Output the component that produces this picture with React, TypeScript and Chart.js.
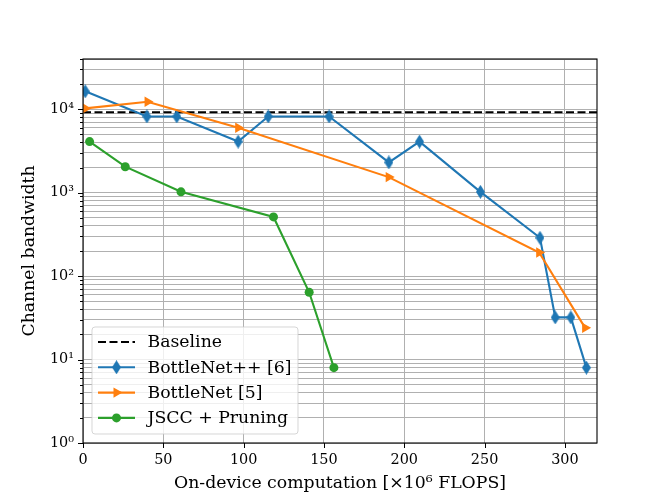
import React, { useEffect, useRef } from 'react';
import { Chart, registerables } from 'chart.js';

Chart.register(...registerables);

// ---------- data ----------
const X_MIN = 0;
const X_MAX = 320;
const Y_MIN = 1;
const Y_MAX = 40000;

const xTickValues = [0, 50, 100, 150, 200, 250, 300];
const yMajorTicks = [1, 10, 100, 1000, 10000];
const yMinorMultipliers = [2, 3, 4, 5, 6, 7, 8, 9];

const baselineValue = 9216;

const bottleNetPPX = [1.4, 39.8, 58.4, 96.6, 115.3, 153.2, 190.4, 209.5, 247.4, 284.5, 294.0, 303.7, 313.4];
const bottleNetPPY = [16384, 8192, 8192, 4096, 8192, 8192, 2304, 4096, 1024, 288, 32, 32, 8];

const bottleNetX = [1.4, 40.2, 96.6, 190.3, 284.0, 312.6];
const bottleNetY = [10240, 12288, 6000, 1536, 192, 24];

const jsccX = [4.1, 26.3, 61.0, 118.6, 140.8, 156.2];
const jsccY = [4096, 2048, 1024, 512, 64, 8];

const labels = ['Baseline', 'BottleNet++ [6]', 'BottleNet [5]', 'JSCC + Pruning'];

// ---------- styling ----------
const FONT = 'DejaVu Serif';
const TICK_SIZE = 14.4;
const LABEL_SIZE = 17.3;
const BLUE = '#1f77b4';
const ORANGE = '#ff7f0e';
const GREEN = '#2ca02c';
const GRID = '#b0b0b0';
const LW = 2.1;

const SUP: Record<string, string> = { '0': '⁰', '1': '¹', '2': '²', '3': '³', '4': '⁴', '5': '⁵', '6': '⁶', '7': '⁷', '8': '⁸', '9': '⁹' };
const sup = (n: number) => String(n).split('').map((c) => SUP[c] || c).join('');

const yTickValues: number[] = [];
yMajorTicks.forEach((p) => {
  yTickValues.push(p);
  yMinorMultipliers.forEach((m) => {
    if (m * p <= Y_MAX) yTickValues.push(m * p);
  });
});
yTickValues.sort((a, b) => a - b);

const zip = (xs: number[], ys: number[]) => xs.map((x, i) => ({ x, y: ys[i] }));

function makeDiamond(color: string): HTMLCanvasElement {
  const c = document.createElement('canvas');
  c.width = 9;
  c.height = 14;
  const ctx = c.getContext('2d')!;
  ctx.fillStyle = color;
  ctx.beginPath();
  ctx.moveTo(4.5, 0);
  ctx.lineTo(9, 7);
  ctx.lineTo(4.5, 14);
  ctx.lineTo(0, 7);
  ctx.closePath();
  ctx.fill();
  return c;
}

const frameAndTicks = {
  id: 'frameAndTicks',
  afterDatasetsDraw(chart: any) {
    const { ctx, chartArea } = chart;
    const { left, right, top, bottom } = chartArea;
    const xs = chart.scales.x;
    const ys = chart.scales.y;
    ctx.save();
    ctx.strokeStyle = '#000';
    ctx.lineWidth = 1;
    ctx.beginPath();
    xTickValues.forEach((v) => {
      const px = Math.round(xs.getPixelForValue(v)) + 0.5;
      ctx.moveTo(px, bottom);
      ctx.lineTo(px, bottom + 5);
    });
    yTickValues.forEach((v) => {
      const py = Math.round(ys.getPixelForValue(v)) + 0.5;
      const len = yMajorTicks.includes(v) ? 5 : 3;
      ctx.moveTo(left, py);
      ctx.lineTo(left - len, py);
    });
    ctx.stroke();
    ctx.lineWidth = 1.1;
    ctx.strokeRect(left, top, right - left, bottom - top);
    ctx.restore();
  },
};

const legendPlugin = {
  id: 'innerLegend',
  afterDraw(chart: any) {
    const { ctx, chartArea } = chart;
    const bx = chartArea.left + 9;
    const bw = 206;
    const bh = 107;
    const by = chartArea.bottom - 9 - bh;
    ctx.save();
    ctx.beginPath();
    if ((ctx as any).roundRect) (ctx as any).roundRect(bx, by, bw, bh, 3);
    else ctx.rect(bx, by, bw, bh);
    ctx.fillStyle = 'rgba(255,255,255,0.8)';
    ctx.fill();
    ctx.strokeStyle = 'rgba(204,204,204,0.8)';
    ctx.lineWidth = 1;
    ctx.stroke();

    const ds = chart.data.datasets;
    const rowStart = by + 15;
    const step = 25.3;
    const lx0 = bx + 6;
    const lx1 = bx + 43;
    const mx = (lx0 + lx1) / 2;
    ds.forEach((d: any, i: number) => {
      const y = rowStart + i * step;
      ctx.beginPath();
      ctx.strokeStyle = d.borderColor;
      ctx.lineWidth = d.borderWidth;
      ctx.setLineDash(d.borderDash || []);
      ctx.moveTo(lx0, y);
      ctx.lineTo(lx1, y);
      ctx.stroke();
      ctx.setLineDash([]);
      const ps = d.pointStyle;
      if (d.pointRadius > 0) {
        ctx.fillStyle = d.pointBackgroundColor;
        if (ps instanceof HTMLCanvasElement) {
          ctx.drawImage(ps, mx - ps.width / 2, y - ps.height / 2);
        } else if (ps === 'triangle') {
          const r = d.pointRadius;
          let rad = ((d.pointRotation || 0) * Math.PI) / 180;
          ctx.beginPath();
          ctx.moveTo(mx + Math.sin(rad) * r, y - Math.cos(rad) * r);
          rad += (2 * Math.PI) / 3;
          ctx.lineTo(mx + Math.sin(rad) * r, y - Math.cos(rad) * r);
          rad += (2 * Math.PI) / 3;
          ctx.lineTo(mx + Math.sin(rad) * r, y - Math.cos(rad) * r);
          ctx.closePath();
          ctx.fill();
        } else {
          ctx.beginPath();
          ctx.arc(mx, y, d.pointRadius, 0, Math.PI * 2);
          ctx.fill();
        }
      }
      ctx.fillStyle = '#000';
      ctx.font = `${LABEL_SIZE}px "${FONT}"`;
      ctx.textBaseline = 'middle';
      ctx.textAlign = 'left';
      ctx.fillText(d.label, bx + 55.5, y + 1);
    });
    ctx.restore();
  },
};

export default function App() {
  const ref = useRef<HTMLCanvasElement | null>(null);

  useEffect(() => {
    if (!ref.current) return;
    const diamond = makeDiamond(BLUE);
    const chart = new Chart(ref.current, {
      type: 'line',
      data: {
        datasets: [
          {
            label: labels[0],
            data: [
              { x: X_MIN, y: baselineValue },
              { x: X_MAX, y: baselineValue },
            ],
            borderColor: '#000',
            backgroundColor: '#000',
            borderWidth: LW,
            borderDash: [8, 3.5],
            pointRadius: 0,
            order: 3,
          },
          {
            label: labels[1],
            data: zip(bottleNetPPX, bottleNetPPY),
            borderColor: BLUE,
            backgroundColor: BLUE,
            pointBackgroundColor: BLUE,
            borderWidth: LW,
            pointStyle: diamond as any,
            pointRadius: 5,
            order: 2,
          },
          {
            label: labels[2],
            data: zip(bottleNetX, bottleNetY),
            borderColor: ORANGE,
            backgroundColor: ORANGE,
            pointBackgroundColor: ORANGE,
            pointBorderColor: ORANGE,
            borderWidth: LW,
            pointStyle: 'triangle',
            pointRotation: 90,
            pointRadius: 6,
            pointBorderWidth: 0,
            order: 1,
          },
          {
            label: labels[3],
            data: zip(jsccX, jsccY),
            borderColor: GREEN,
            backgroundColor: GREEN,
            pointBackgroundColor: GREEN,
            pointBorderColor: GREEN,
            borderWidth: LW,
            pointStyle: 'circle',
            pointRadius: 4.5,
            pointBorderWidth: 0,
            order: 0,
          },
        ] as any,
      },
      options: {
        animation: false,
        responsive: false,
        devicePixelRatio: window.devicePixelRatio || 1,
        layout: { padding: { left: 0, top: 59, right: 67, bottom: 0 } },
        plugins: { legend: { display: false }, tooltip: { enabled: false } },
        elements: { line: { tension: 0 } },
        scales: {
          x: {
            type: 'linear',
            min: X_MIN,
            max: X_MAX,
            afterBuildTicks: (s: any) => {
              s.ticks = xTickValues.map((v) => ({ value: v }));
            },
            afterFit: (s: any) => {
              s.height = 55;
            },
            grid: { color: GRID, lineWidth: 1, drawTicks: false },
            border: { display: false },
            ticks: {
              autoSkip: false,
              maxRotation: 0,
              padding: 9,
              color: '#000',
              font: { family: FONT, size: TICK_SIZE },
            },
            title: {
              display: true,
              text: 'On-device computation [×10⁶ FLOPS]',
              color: '#000',
              font: { family: FONT, size: LABEL_SIZE },
              padding: { top: 0, bottom: 4.6 },
            },
          },
          y: {
            type: 'logarithmic',
            min: Y_MIN,
            max: Y_MAX,
            afterBuildTicks: (s: any) => {
              s.ticks = yTickValues.map((v) => ({ value: v, major: yMajorTicks.includes(v) }));
            },
            afterFit: (s: any) => {
              s.width = 83;
            },
            grid: { color: GRID, lineWidth: 1, drawTicks: false },
            border: { display: false },
            ticks: {
              autoSkip: false,
              padding: 9,
              color: '#000',
              font: { family: FONT, size: TICK_SIZE },
              callback: (v: any) => {
                const n = Number(v);
                return yMajorTicks.includes(n) ? '10' + sup(Math.round(Math.log10(n))) : '';
              },
            },
            title: {
              display: true,
              text: 'Channel bandwidth',
              color: '#000',
              font: { family: FONT, size: LABEL_SIZE },
              padding: { top: 19.6, bottom: 0 },
            },
          },
        },
      } as any,
      plugins: [frameAndTicks, legendPlugin],
    });
    return () => chart.destroy();
  }, []);

  return (
    <div style={{ position: 'absolute', left: 0, top: 0, width: 664, height: 498, background: '#fff' }}>
      <canvas ref={ref} width={664} height={498} style={{ width: 664, height: 498 }} />
    </div>
  );
}
